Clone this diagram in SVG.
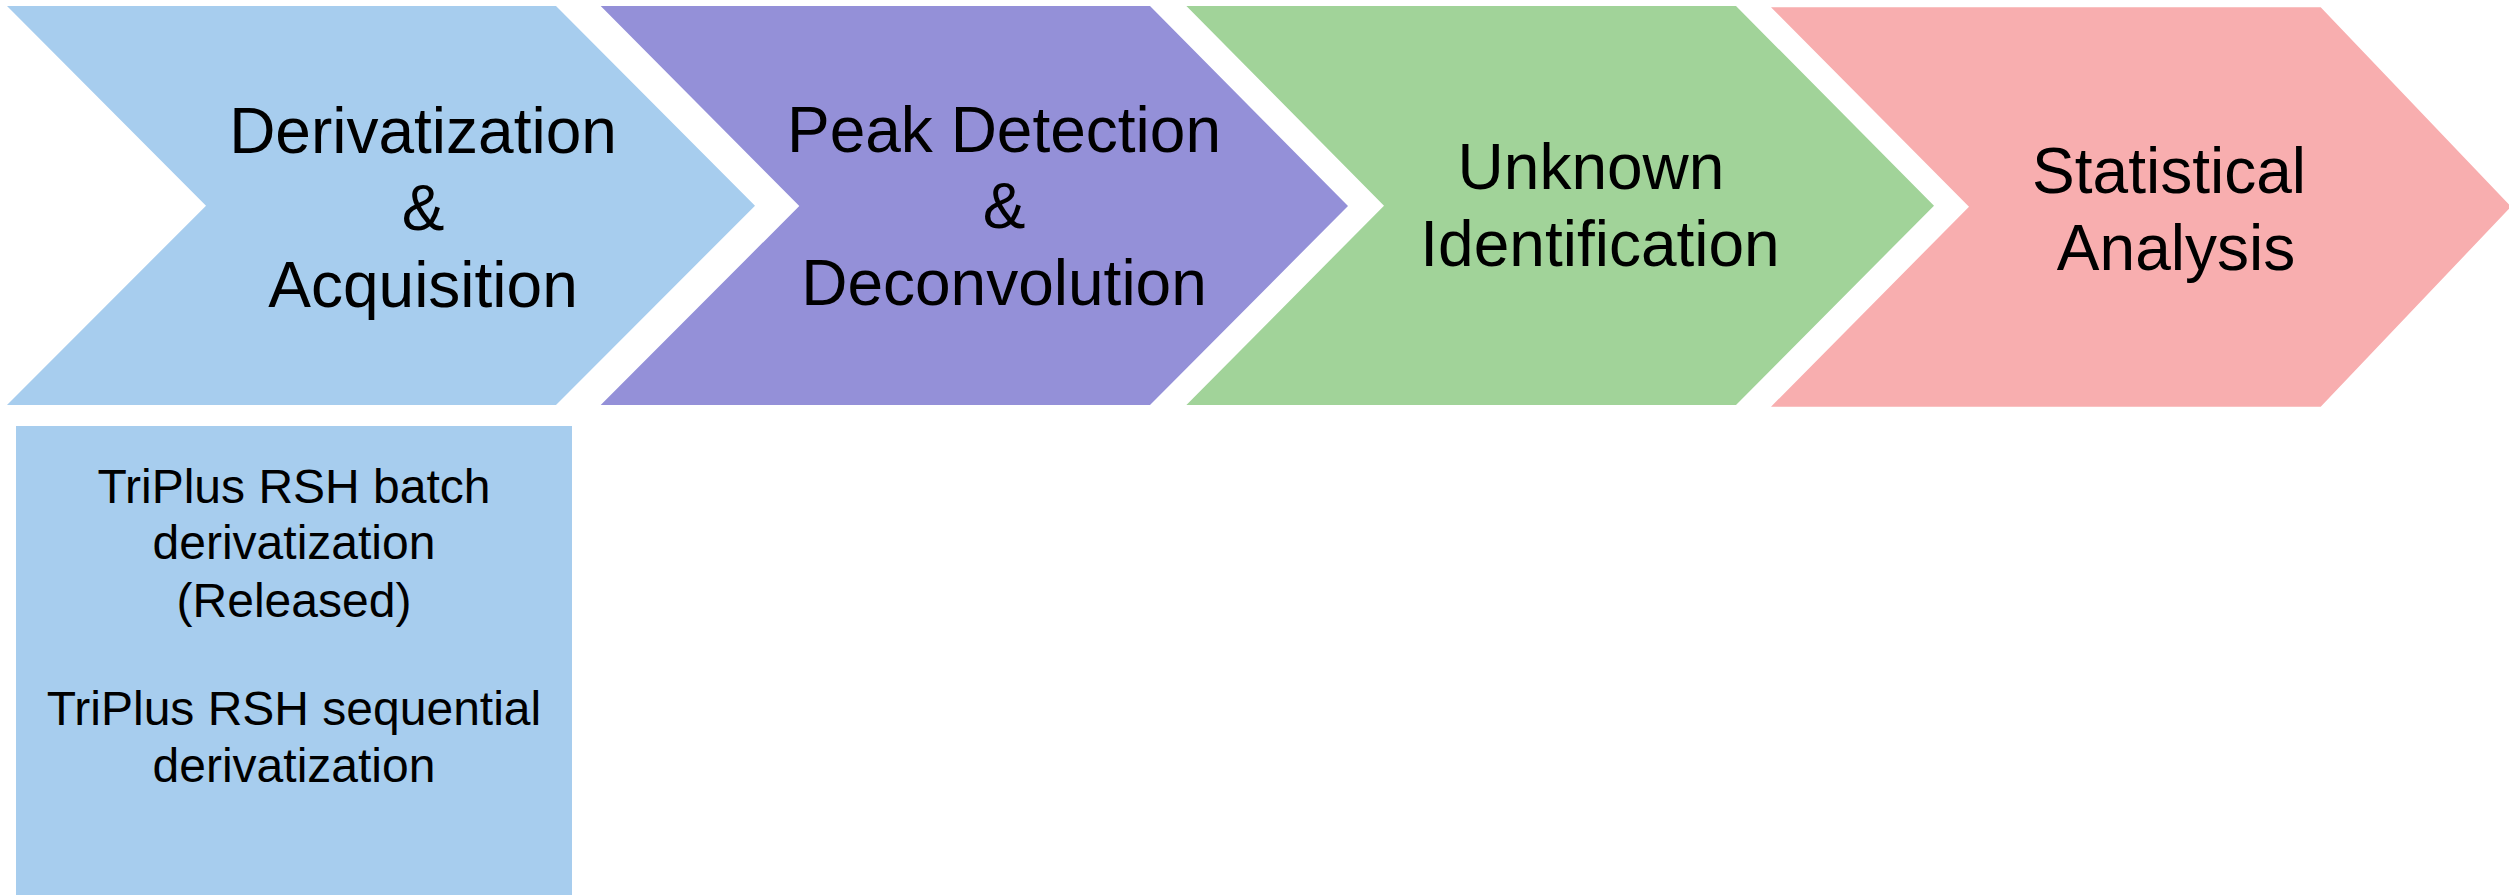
<svg xmlns="http://www.w3.org/2000/svg" width="2509" height="895" viewBox="0 0 2509 895">
<style>
.lbl{font-family:"Liberation Sans",Arial,sans-serif;font-size:64px;fill:#000;text-anchor:middle}
.sub{font-family:"Liberation Sans",Arial,sans-serif;font-size:48px;fill:#000;text-anchor:middle}
.c1{fill:#A7CDEE}
.c2{fill:#9490D8}
.c3{fill:#A1D399}
.c4{fill:#F8AEAF}
</style>
<rect width="2509" height="895" fill="#FFFFFF"/>
<g id="connectors"></g>
<g id="step1">
<polygon class="c1" points="7,6 556,6 755,205.7 556,405 7,405 206,205.7"/>
<text class="lbl" x="423" y="153.3">Derivatization</text>
<text class="lbl" x="423" y="230">&amp;</text>
<text class="lbl" x="423" y="306.7">Acquisition</text>
</g>
<g id="step2">
<polygon class="c2" points="600.7,6 1150,6 1348,206 1150,405 600.7,405 799.3,206"/>
<text class="lbl" x="1004" y="151.7">Peak Detection</text>
<text class="lbl" x="1004" y="228.3">&amp;</text>
<text class="lbl" x="1004" y="305">Deconvolution</text>
</g>
<g id="step3">
<polygon class="c3" points="1186.4,6 1736,6 1934,205.7 1736,405 1186.4,405 1384,205.7"/>
<text class="lbl" x="1591" y="189.3">Unknown</text>
<text class="lbl" x="1600" y="266">Identification</text>
</g>
<g id="step4">
<polygon class="c4" points="1771,7.3 2320.7,7.3 2511,206.7 2320.7,406.7 1771,406.7 1969,206.7"/>
<text class="lbl" x="2169" y="193">Statistical</text>
<text class="lbl" x="2176" y="270">Analysis</text>
</g>
<g id="detail1">
<rect class="c1" x="16" y="426" width="556" height="469"/>
<text class="sub" x="294" y="502.7">TriPlus RSH batch</text>
<text class="sub" x="294" y="559.3">derivatization</text>
<text class="sub" x="294" y="616.7">(Released)</text>
<text class="sub" x="294" y="725">TriPlus RSH sequential</text>
<text class="sub" x="294" y="781.7">derivatization</text>
</g>
</svg>
